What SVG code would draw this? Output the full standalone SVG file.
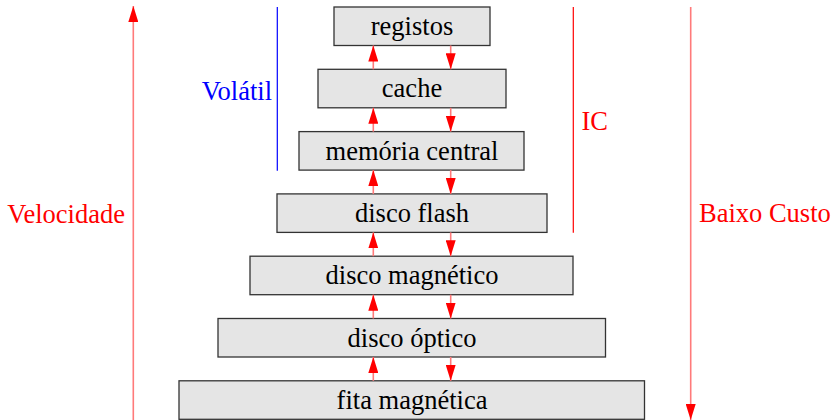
<svg xmlns="http://www.w3.org/2000/svg" width="834" height="420" viewBox="0 0 834 420">
<style>
.box{fill:#e5e5e5;stroke:#333;stroke-width:1.3}
text{font-family:'Liberation Serif','Times New Roman',Times,serif;font-size:26.5px}
.lbl{text-anchor:middle;fill:#000}
.red{fill:#ff0000}
.blue{fill:#0000ff}
.arr{stroke:#ff7a7a;stroke-width:1.6;fill:none;marker-end:url(#ah)}
</style>
<defs>
<marker id="ah" markerUnits="userSpaceOnUse" markerWidth="16" markerHeight="10" refX="16" refY="5" orient="auto">
<path d="M0,0 L16,5 L0,10 z" fill="#ff0000"/>
</marker>
</defs>
<rect width="834" height="420" fill="#fff"/>
<g id="n-registos"><rect class="box" x="334" y="7" width="156" height="38.5"/><text class="lbl" x="412" y="34.5">registos</text></g>
<g id="n-cache"><rect class="box" x="318" y="69.3" width="188" height="38.5"/><text class="lbl" x="412" y="97">cache</text></g>
<g id="n-memoria"><rect class="box" x="299" y="131.6" width="225" height="38.5"/><text class="lbl" x="412" y="159.5">memória central</text></g>
<g id="n-flash"><rect class="box" x="277" y="193.9" width="270" height="38.5"/><text class="lbl" x="412" y="221.5">disco flash</text></g>
<g id="n-magnetico"><rect class="box" x="250" y="256.2" width="323" height="38.5"/><text class="lbl" x="412" y="284">disco magnético</text></g>
<g id="n-optico"><rect class="box" x="218" y="318.5" width="387.5" height="38.5"/><text class="lbl" x="412" y="346.5">disco óptico</text></g>
<g id="n-fita"><rect class="box" x="179" y="380.8" width="465.5" height="38.5"/><text class="lbl" x="412" y="408.5">fita magnética</text></g>
<g id="connectors">
<line class="arr" x1="373.3" y1="69.3" x2="373.3" y2="45.5"/>
<line class="arr" x1="450.7" y1="45.5" x2="450.7" y2="69.3"/>
<line class="arr" x1="373.3" y1="131.6" x2="373.3" y2="107.8"/>
<line class="arr" x1="450.7" y1="107.8" x2="450.7" y2="131.6"/>
<line class="arr" x1="373.3" y1="193.9" x2="373.3" y2="170.1"/>
<line class="arr" x1="450.7" y1="170.1" x2="450.7" y2="193.9"/>
<line class="arr" x1="373.3" y1="256.2" x2="373.3" y2="232.4"/>
<line class="arr" x1="450.7" y1="232.4" x2="450.7" y2="256.2"/>
<line class="arr" x1="373.3" y1="318.5" x2="373.3" y2="294.7"/>
<line class="arr" x1="450.7" y1="294.7" x2="450.7" y2="318.5"/>
<line class="arr" x1="373.3" y1="380.8" x2="373.3" y2="357"/>
<line class="arr" x1="450.7" y1="357" x2="450.7" y2="380.8"/>
<line class="arr" x1="133.3" y1="420" x2="133.3" y2="6"/>
<line class="arr" x1="690.7" y1="7" x2="690.7" y2="420"/>
</g>
<g id="volatil">
<line x1="277.3" y1="7" x2="277.3" y2="170.7" stroke="#0000ff" stroke-width="1.2"/>
<text class="blue" x="272" y="100" text-anchor="end">Volátil</text>
</g>
<g id="ic">
<line x1="573.3" y1="7" x2="573.3" y2="232.7" stroke="#ff0000" stroke-width="1.2"/>
<text class="red" x="581.5" y="130">IC</text>
</g>
<text class="red" x="125" y="222.5" text-anchor="end">Velocidade</text>
<text class="red" x="699" y="222">Baixo Custo</text>
</svg>
